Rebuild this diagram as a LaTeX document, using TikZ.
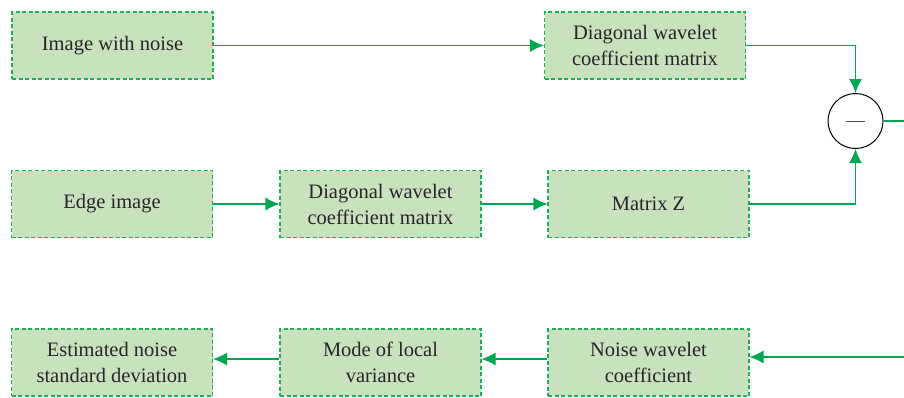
\documentclass[tikz,border=0pt]{standalone}
\usepackage{fontspec}
\setmainfont{Liberation Serif}
\usetikzlibrary{arrows.meta}
\definecolor{boxfill}{HTML}{C9E2BE}
\definecolor{boxline}{HTML}{1FAE5A}
\definecolor{arr}{HTML}{00A651}
\begin{document}
\begin{tikzpicture}[x=1pt,y=1pt,
  stepbox/.style={draw=boxline, fill=boxfill, dash pattern=on 4pt off 2.5pt, line width=1.1pt,
    minimum width=201pt, minimum height=67pt, inner sep=0pt, align=center,
    font=\rmfamily\fontsize{20.5}{26}\selectfont, text=black!85},
  conn/.style={draw=arr, line width=1.2pt, -{Latex[length=14pt,width=13pt]}},
  plainconn/.style={draw=arr, line width=1.2pt}]
\useasboundingbox (0,0) rectangle (904,-397);
% row 1
\node[stepbox] (noisy) at (112.5,-45.5) {Image with noise};
\node[stepbox] (diag1) at (645,-45.5) {Diagonal wavelet\\coefficient matrix};
% row 2
\node[stepbox] (edge) at (112,-204) {Edge image};
\node[stepbox] (diag2) at (380.5,-204) {Diagonal wavelet\\coefficient matrix};
\node[stepbox] (matz) at (648.5,-204) {Matrix Z};
% row 3
\node[stepbox] (est) at (112,-362.5) {Estimated noise\\standard deviation};
\node[stepbox] (mode) at (380.5,-362.5) {Mode of local\\variance};
\node[stepbox] (nwc) at (648.5,-362.5) {Noise wavelet\\coefficient};
% subtraction
\node[circle, draw=black, fill=white, line width=1pt, minimum size=55pt, inner sep=0pt] (sub) at (855.5,-121) {};
\draw[black!70, line width=1pt] ([xshift=-9.5pt]sub.center) -- ([xshift=9.5pt]sub.center);
\coordinate (outR) at (904,-121);
\coordinate (inR) at (904,-357);
% connectors
\draw[conn] (noisy.east) -- (diag1.west);
\draw[conn] (diag1.east) -| (sub.north);
\draw[conn] (matz.east) -| (sub.south);
\draw[conn] (edge.east) -- (diag2.west);
\draw[conn] (diag2.east) -- (matz.west);
\draw[plainconn] (sub.east) -- (outR);
\draw[conn] (inR) -- (nwc.east |- inR);
\draw[conn] (nwc.west |- 0,-359) -- (mode.east |- 0,-359);
\draw[conn] (mode.west |- 0,-359) -- (est.east |- 0,-359);
\end{tikzpicture}
\end{document}
